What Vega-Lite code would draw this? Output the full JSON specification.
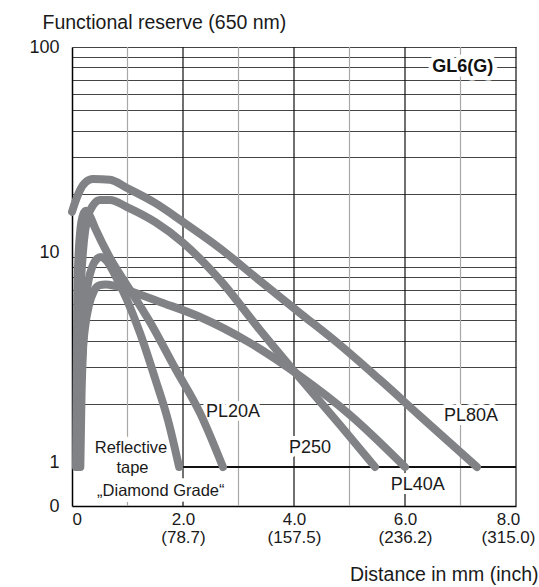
{
  "$schema": "https://vega.github.io/schema/vega-lite/v6.json",
  "width": 444,
  "height": 459,
  "autosize": {"type": "none"},
  "padding": {"left": 72, "top": 47, "right": 23, "bottom": 81},
  "background": "white",
  "config": {
    "view": {"stroke": null},
    "font": "Liberation Sans",
    "axis": {"labelFont": "Liberation Sans", "titleFont": "Liberation Sans", "labelColor": "#1a1a1a", "titleColor": "#1a1a1a", "titleFontWeight": "normal"}
  },
  "datasets": {
    "curves": [
      {"s": "PL80A", "x": 0, "y": 16.4}, {"s": "PL80A", "x": 0.072, "y": 18.7}, {"s": "PL80A", "x": 0.144, "y": 20.8}, {"s": "PL80A", "x": 0.252, "y": 22.8}, {"s": "PL80A", "x": 0.378, "y": 23.5}, {"s": "PL80A", "x": 0.685, "y": 23.3}, {"s": "PL80A", "x": 0.991, "y": 21.3}, {"s": "PL80A", "x": 1.495, "y": 18.1}, {"s": "PL80A", "x": 2.0, "y": 14.7}, {"s": "PL80A", "x": 2.667, "y": 11.0}, {"s": "PL80A", "x": 3.387, "y": 7.69}, {"s": "PL80A", "x": 4.108, "y": 5.41}, {"s": "PL80A", "x": 4.829, "y": 3.81}, {"s": "PL80A", "x": 5.55, "y": 2.6}, {"s": "PL80A", "x": 6.27, "y": 1.75}, {"s": "PL80A", "x": 7.297, "y": 1.0},
      {"s": "P250", "x": 0.09, "y": 1.0}, {"s": "P250", "x": 0.108, "y": 2.08}, {"s": "P250", "x": 0.126, "y": 4.0}, {"s": "P250", "x": 0.162, "y": 7.5}, {"s": "P250", "x": 0.216, "y": 12.0}, {"s": "P250", "x": 0.288, "y": 15.6}, {"s": "P250", "x": 0.378, "y": 17.6}, {"s": "P250", "x": 0.505, "y": 18.7}, {"s": "P250", "x": 0.685, "y": 18.7}, {"s": "P250", "x": 0.991, "y": 17.3}, {"s": "P250", "x": 1.495, "y": 14.7}, {"s": "P250", "x": 2.0, "y": 11.7}, {"s": "P250", "x": 2.667, "y": 7.77}, {"s": "P250", "x": 3.387, "y": 4.49}, {"s": "P250", "x": 4.108, "y": 2.65}, {"s": "P250", "x": 4.829, "y": 1.585}, {"s": "P250", "x": 5.46, "y": 1.0},
      {"s": "PL40A", "x": 0.12, "y": 1.0}, {"s": "PL40A", "x": 0.144, "y": 1.8}, {"s": "PL40A", "x": 0.18, "y": 3.2}, {"s": "PL40A", "x": 0.234, "y": 4.6}, {"s": "PL40A", "x": 0.306, "y": 5.9}, {"s": "PL40A", "x": 0.396, "y": 6.9}, {"s": "PL40A", "x": 0.5, "y": 7.35}, {"s": "PL40A", "x": 0.6, "y": 7.4}, {"s": "PL40A", "x": 0.775, "y": 7.28}, {"s": "PL40A", "x": 1.045, "y": 6.89}, {"s": "PL40A", "x": 1.586, "y": 6.11}, {"s": "PL40A", "x": 2.306, "y": 5.18}, {"s": "PL40A", "x": 3.207, "y": 3.9}, {"s": "PL40A", "x": 4.108, "y": 2.71}, {"s": "PL40A", "x": 5.009, "y": 1.77}, {"s": "PL40A", "x": 6.0, "y": 1.0},
      {"s": "PL20A", "x": 0.072, "y": 1.0}, {"s": "PL20A", "x": 0.081, "y": 2.08}, {"s": "PL20A", "x": 0.09, "y": 4.49}, {"s": "PL20A", "x": 0.108, "y": 8.67}, {"s": "PL20A", "x": 0.144, "y": 12.9}, {"s": "PL20A", "x": 0.198, "y": 15.85}, {"s": "PL20A", "x": 0.252, "y": 16.6}, {"s": "PL20A", "x": 0.306, "y": 16.0}, {"s": "PL20A", "x": 0.414, "y": 13.75}, {"s": "PL20A", "x": 0.685, "y": 9.89}, {"s": "PL20A", "x": 1.045, "y": 6.97}, {"s": "PL20A", "x": 1.405, "y": 4.9}, {"s": "PL20A", "x": 1.856, "y": 2.96}, {"s": "PL20A", "x": 2.306, "y": 1.81}, {"s": "PL20A", "x": 2.72, "y": 1.0},
      {"s": "DG", "x": 0.15, "y": 1.0}, {"s": "DG", "x": 0.17, "y": 2.08}, {"s": "DG", "x": 0.21, "y": 4.2}, {"s": "DG", "x": 0.27, "y": 6.9}, {"s": "DG", "x": 0.36, "y": 8.9}, {"s": "DG", "x": 0.45, "y": 9.8}, {"s": "DG", "x": 0.52, "y": 10.0}, {"s": "DG", "x": 0.613, "y": 9.67}, {"s": "DG", "x": 0.775, "y": 8.21}, {"s": "DG", "x": 0.991, "y": 6.24}, {"s": "DG", "x": 1.225, "y": 4.35}, {"s": "DG", "x": 1.495, "y": 2.65}, {"s": "DG", "x": 1.73, "y": 1.67}, {"s": "DG", "x": 1.93, "y": 1.0}
    ],
    "labels": [
      {"t": "PL20A", "x": 2.9, "y": 1.83},
      {"t": "P250", "x": 4.29, "y": 1.225},
      {"t": "PL40A", "x": 6.23, "y": 0.82},
      {"t": "PL80A", "x": 7.19, "y": 1.74}
    ],
    "tape": [
      {"t": "Reflective", "x": 1.063, "y": 1.225},
      {"t": "tape", "x": 1.09, "y": 0.984},
      {"t": "„Diamond Grade“", "x": 1.6, "y": 0.768}
    ],
    "gl": [
      {"t": "GL6(G)", "x": 7.04, "y": 80}
    ],
    "base": [
      {"x": 1.93, "x2": 8, "y": 1}
    ],
    "vminor": [
      {"x": 1, "y": 0.652, "y2": 100}, {"x": 3, "y": 0.652, "y2": 100}, {"x": 5, "y": 0.652, "y2": 100}, {"x": 7, "y": 0.652, "y2": 100}
    ],
    "vmajor": [
      {"x": 2, "y": 0.652, "y2": 100}, {"x": 4, "y": 0.652, "y2": 100}, {"x": 6, "y": 0.652, "y2": 100}, {"x": 8, "y": 0.652, "y2": 100}
    ]
  },
  "encoding": {
    "x": {
      "field": "x", "type": "quantitative",
      "scale": {"domain": [0, 8], "nice": false, "zero": false},
      "axis": {
        "orient": "bottom", "values": [0, 2, 4, 6, 8],
        "labelExpr": "datum.value==0 ? '0' : [format(datum.value,'.1f'), datum.value==2 ? '(78.7)' : datum.value==4 ? '(157.5)' : datum.value==6 ? '(236.2)' : '(315.0)']",
        "labelFontSize": 17, "labelLineHeight": 18, "labelPadding": 5, "labelBaseline": "top", "ticks": false,
        "domain": true, "domainColor": "#000000", "domainWidth": 1.5,
        "grid": false, "labelFlush": false, "labelOverlap": false,
        "labelAlign": {"condition": {"test": "datum.value==0", "value": "left"}, "value": "center"},
        "labelOffset": {"condition": {"test": "datum.value==8", "value": -8}, "value": 0},
        "title": "Distance in mm (inch)", "titleFontSize": 19.5, "titleX": 466, "titleY": 74,
        "titleAlign": "right", "titleBaseline": "alphabetic", "titleAnchor": "end"
      }
    },
    "y": {
      "field": "y", "type": "quantitative",
      "scale": {"type": "log", "domain": [0.652, 100], "nice": false},
      "axis": {
        "orient": "left",
        "values": [0.652, 1, 2, 3, 4, 5, 6, 7, 8, 9, 10, 20, 30, 40, 50, 60, 70, 80, 90, 100],
        "labelExpr": "datum.value==100?'100':datum.value==10?'10':datum.value==1?'1':datum.value<0.9?'0':''",
        "labelFontSize": 18, "labelPadding": 13, "ticks": false,
        "domain": true, "domainColor": "#000000", "domainWidth": 1.5,
        "grid": true, "gridColor": "#444444", "gridWidth": 1,
        "gridOpacity": {"condition": {"test": "datum.value<1.5", "value": 0}, "value": 1},
        "labelOffset": {"condition": {"test": "datum.value==1 || datum.value==10", "value": -4}, "value": 0},
        "labelOverlap": false, "labelFlush": false, "labelBaseline": "middle",
        "title": "Functional reserve (650 nm)", "titleAngle": 0, "titleAlign": "left",
        "titleBaseline": "alphabetic", "titleX": -30, "titleY": -19, "titleFontSize": 19.5
      }
    }
  },
  "layer": [
    {
      "data": {"name": "vminor"},
      "mark": {"type": "rule", "color": "#a8a8a8", "strokeWidth": 1.2},
      "encoding": {"y2": {"field": "y2"}}
    },
    {
      "data": {"name": "vmajor"},
      "mark": {"type": "rule", "color": "#111111", "strokeWidth": 1.2},
      "encoding": {"y2": {"field": "y2"}}
    },
    {
      "data": {"name": "base"},
      "mark": {"type": "rule", "color": "#111111", "strokeWidth": 2},
      "encoding": {"x2": {"field": "x2"}}
    },
    {
      "data": {"name": "labels"},
      "mark": {"type": "text", "font": "Liberation Sans", "fontSize": 18, "fill": "white", "stroke": "white", "strokeWidth": 8, "strokeJoin": "round", "baseline": "middle"},
      "encoding": {"text": {"field": "t"}}
    },
    {
      "data": {"name": "tape"},
      "mark": {"type": "text", "font": "Liberation Sans", "fontSize": 16.5, "fill": "white", "stroke": "white", "strokeWidth": 12, "strokeJoin": "round", "baseline": "middle"},
      "encoding": {"text": {"field": "t"}}
    },
    {
      "data": {"name": "gl"},
      "mark": {"type": "text", "font": "Liberation Sans", "fontSize": 18, "fontWeight": "bold", "fill": "white", "stroke": "white", "strokeWidth": 9, "strokeJoin": "round", "baseline": "middle"},
      "encoding": {"text": {"field": "t"}}
    },
    {
      "data": {"name": "curves"},
      "mark": {"type": "line", "interpolate": "monotone", "color": "#808285", "strokeWidth": 8, "strokeCap": "round", "strokeJoin": "round", "clip": false},
      "encoding": {"detail": {"field": "s"}}
    },
    {
      "data": {"name": "labels"},
      "mark": {"type": "text", "font": "Liberation Sans", "fontSize": 18, "fill": "#1a1a1a", "baseline": "middle"},
      "encoding": {"text": {"field": "t"}}
    },
    {
      "data": {"name": "tape"},
      "mark": {"type": "text", "font": "Liberation Sans", "fontSize": 16.5, "fill": "#1a1a1a", "baseline": "middle"},
      "encoding": {"text": {"field": "t"}}
    },
    {
      "data": {"name": "gl"},
      "mark": {"type": "text", "font": "Liberation Sans", "fontSize": 18, "fontWeight": "bold", "fill": "#111111", "baseline": "middle"},
      "encoding": {"text": {"field": "t"}}
    }
  ]
}
